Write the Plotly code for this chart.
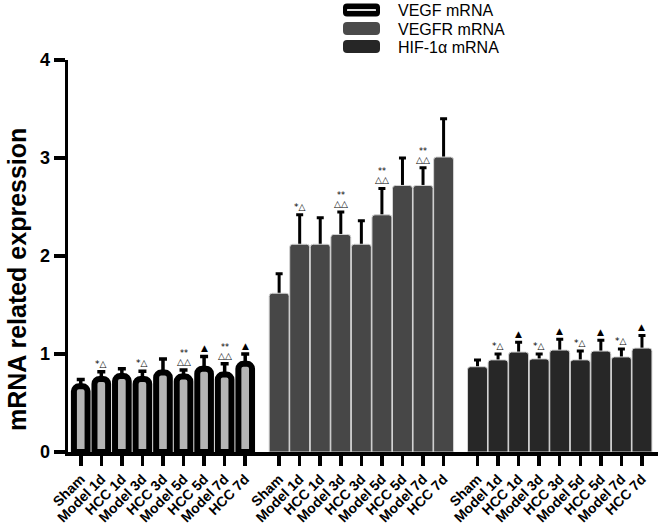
import plotly.graph_objects as go

# ---------------- data ----------------
categories = ["Sham", "Model 1d", "HCC 1d", "Model 3d", "HCC 3d",
              "Model 5d", "HCC 5d", "Model 7d", "HCC 7d"]
series_names = ["VEGF mRNA", "VEGFR mRNA", "HIF-1α mRNA"]

vegf = [0.67, 0.745, 0.775, 0.745, 0.81, 0.77, 0.85, 0.79, 0.90]
vegf_err = [0.07, 0.075, 0.075, 0.08, 0.14, 0.066, 0.125, 0.11, 0.10]

vegfr = [1.62, 2.12, 2.12, 2.22, 2.12, 2.42, 2.72, 2.72, 3.01]
vegfr_err = [0.20, 0.30, 0.27, 0.23, 0.24, 0.27, 0.28, 0.18, 0.39]

hif = [0.87, 0.94, 1.02, 0.95, 1.04, 0.94, 1.03, 0.97, 1.06]
hif_err = [0.07, 0.06, 0.10, 0.05, 0.11, 0.09, 0.11, 0.08, 0.13]

vegf_marks = ["", "*△", "", "*△", "", "**|△△", "▲", "**|△△", "▲"]
vegfr_marks = ["", "*△", "", "**|△△", "", "**|△△", "", "**|△△", ""]
hif_marks = ["", "*△", "▲", "*△", "▲", "*△", "▲", "*△", "▲"]

y_ticks = [0, 1, 2, 3, 4]
y_title = "mRNA related expression"

# ---------------- styling ----------------
FONT = "Liberation Sans"
GROUP_STEP = 9.65
fills = ["#b5b5b5", "#474747", "#272727"]
edge_colors = ["#000000", "#d4d4d4", "#d4d4d4"]
edge_widths = [6, 1, 1]
bar_widths = [0.665, 0.97, 0.97]
radii = [5, 3, 3]
err_thick = [3.5, 3, 3]
err_w = [4, 3.5, 3.5]

values = [vegf, vegfr, hif]
errors = [vegf_err, vegfr_err, hif_err]
marks = [vegf_marks, vegfr_marks, hif_marks]

fig = go.Figure()
xs_all, labels_all = [], []
for g in range(3):
    xs = [g * GROUP_STEP + i for i in range(len(categories))]
    xs_all += xs
    labels_all += categories
    # error-bar carrier (drawn first, so the visible bars hide the shoe)
    fig.add_trace(go.Bar(
        x=xs, y=values[g], width=bar_widths[g],
        marker=dict(color="rgba(0,0,0,0)", line=dict(width=0)),
        error_y=dict(type="data", symmetric=False, array=errors[g],
                     arrayminus=[0.04] * len(categories),
                     color="black", thickness=err_thick[g], width=err_w[g]),
        showlegend=False, hoverinfo="skip"))

for g in range(3):
    xs = [g * GROUP_STEP + i for i in range(len(categories))]
    fig.add_trace(go.Bar(
        x=xs, y=values[g], width=bar_widths[g], name=series_names[g],
        marker=dict(color=fills[g], cornerradius=radii[g],
                    line=dict(color=edge_colors[g], width=edge_widths[g])),
        showlegend=False))

# significance marks
mark_font = dict(family="DejaVu Sans", size=9, color="black")
for g in range(3):
    for i, m in enumerate(marks[g]):
        if not m:
            continue
        x = g * GROUP_STEP + i
        top = values[g][i] + errors[g][i]
        parts = m.split("|")
        if len(parts) == 2:
            fig.add_annotation(x=x, y=top, text=parts[1], showarrow=False,
                               yanchor="bottom", yshift=1, font=mark_font)
            fig.add_annotation(x=x, y=top, text=parts[0], showarrow=False,
                               yanchor="bottom", yshift=10,
                               font=dict(family="DejaVu Sans", size=8, color="black"))
        else:
            fig.add_annotation(x=x, y=top, text=m, showarrow=False,
                               yanchor="bottom", yshift=1, font=mark_font)

# ---------------- custom legend ----------------
L, R, T, B = 68, 658, 60, 452


def px2paper(px, py):
    return (px - L) / (R - L), (B - py) / (B - T)


def rrect_path(w, h, r):
    a, b = w / 2, h / 2
    return (f"M {-a + r},{-b} L {a - r},{-b} Q {a},{-b} {a},{-b + r} "
            f"L {a},{b - r} Q {a},{b} {a - r},{b} L {-a + r},{b} "
            f"Q {-a},{b} {-a},{b - r} L {-a},{-b + r} Q {-a},{-b} {-a + r},{-b} Z")


legend_rows = [10, 28.5, 46.5]
legend_sym = ["#000000", "#4a4a4a", "#262626"]
for k in range(3):
    ax, ay = px2paper(361.5, legend_rows[k])
    fig.add_shape(type="path", xref="paper", yref="paper",
                  xsizemode="pixel", ysizemode="pixel", xanchor=ax, yanchor=ay,
                  path=rrect_path(37, 13, 4), fillcolor=legend_sym[k],
                  line=dict(width=0))
    if k == 0:
        fig.add_shape(type="path", xref="paper", yref="paper",
                      xsizemode="pixel", ysizemode="pixel", xanchor=ax, yanchor=ay,
                      path=rrect_path(29, 2, 0.5), fillcolor="#dedede",
                      line=dict(width=0))
    tx, ty = px2paper(397, legend_rows[k] + 0.5)
    fig.add_annotation(xref="paper", yref="paper", x=tx, y=ty, text=series_names[k],
                       showarrow=False, xanchor="left", yanchor="middle", borderpad=0,
                       font=dict(family=FONT, size=16, color="black"))

# y-axis title (placed as in the reference, slightly below the axis centre)
yx, yy = px2paper(17, 280)
fig.add_annotation(xref="paper", yref="paper", x=yx, y=yy, text=y_title,
                   textangle=-90, showarrow=False, xanchor="center", yanchor="middle",
                   font=dict(family=FONT, size=25, color="black", weight="bold"))

fig.update_layout(
    width=660, height=531,
    margin=dict(l=L, r=660 - R, t=T, b=531 - B),
    paper_bgcolor="white", plot_bgcolor="white",
    barmode="overlay",
    font=dict(family=FONT, color="black"),
    showlegend=False,
    hovermode=False,
)
fig.update_xaxes(
    range=[-0.62, 2 * GROUP_STEP + 8.78],
    tickvals=xs_all, ticktext=labels_all, tickangle=-45,
    tickfont=dict(family=FONT, size=14, color="black", weight="bold"),
    showline=True, linecolor="black", linewidth=3.5,
    ticks="outside", ticklen=10, tickwidth=3.5, tickcolor="black",
    showgrid=False, zeroline=False, automargin=False,
)
fig.update_yaxes(
    range=[0, 4], tickvals=y_ticks,
    tickfont=dict(family=FONT, size=18, color="black", weight="bold"),
    showline=True, linecolor="black", linewidth=3.5,
    ticks="outside", ticklen=11, tickwidth=3.5, tickcolor="black",
    showgrid=False, zeroline=False, automargin=False,
)

fig.write_html("out.html",
               config={"displayModeBar": False, "staticPlot": True},
               post_script="document.body.style.margin='0';"
                           "document.body.style.overflow='hidden';")
